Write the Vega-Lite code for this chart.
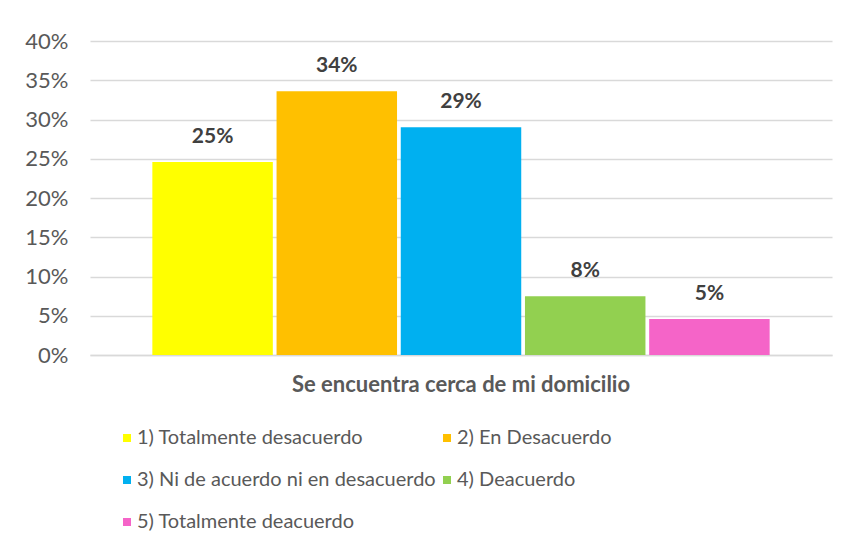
{
  "$schema": "https://vega.github.io/schema/vega-lite/v6.json",
  "width": 742,
  "height": 314,
  "autosize": "none",
  "padding": {"left": 90, "top": 41, "right": 15, "bottom": 195},
  "background": "white",
  "config": {
    "font": "Lato",
    "view": {"stroke": null}
  },
  "data": {
    "values": [
      {"pregunta": "Se encuentra cerca de mi domicilio", "respuesta": "1) Totalmente desacuerdo", "valor": 0.246},
      {"pregunta": "Se encuentra cerca de mi domicilio", "respuesta": "2) En Desacuerdo", "valor": 0.336},
      {"pregunta": "Se encuentra cerca de mi domicilio", "respuesta": "3) Ni de acuerdo ni en desacuerdo", "valor": 0.29},
      {"pregunta": "Se encuentra cerca de mi domicilio", "respuesta": "4) Deacuerdo", "valor": 0.075},
      {"pregunta": "Se encuentra cerca de mi domicilio", "respuesta": "5) Totalmente deacuerdo", "valor": 0.046}
    ]
  },
  "encoding": {
    "x": {
      "field": "pregunta",
      "type": "nominal",
      "scale": {"paddingInner": 0, "paddingOuter": 0.101},
      "axis": {
        "title": null,
        "labelAngle": 0,
        "labelFontWeight": "bold",
        "labelFontSize": 22,
        "labelColor": "#595959",
        "labelPadding": 19,
        "labelLimit": 600,
        "ticks": false,
        "domainColor": "#d9d9d9",
        "domainWidth": 1.5
      }
    },
    "xOffset": {
      "field": "respuesta",
      "type": "nominal",
      "scale": {"paddingInner": 0.03, "paddingOuter": 0}
    },
    "y": {
      "field": "valor",
      "type": "quantitative",
      "scale": {"domain": [0, 0.4]},
      "axis": {
        "title": null,
        "format": ".0%",
        "values": [0, 0.05, 0.1, 0.15, 0.2, 0.25, 0.3, 0.35, 0.4],
        "domain": false,
        "ticks": false,
        "labelFontSize": 22,
        "labelColor": "#595959",
        "labelPadding": 22,
        "gridColor": "#d9d9d9",
        "gridWidth": 1.5
      }
    }
  },
  "layer": [
    {
      "mark": {"type": "bar"},
      "encoding": {
        "color": {
          "field": "respuesta",
          "type": "nominal",
          "scale": {
            "domain": ["1) Totalmente desacuerdo", "2) En Desacuerdo", "3) Ni de acuerdo ni en desacuerdo", "4) Deacuerdo", "5) Totalmente deacuerdo"],
            "range": ["#FFFF00", "#FFC000", "#00B0F0", "#92D050", "#F564C8"]
          },
          "legend": {
            "title": null,
            "orient": "none",
            "legendX": 27,
            "legendY": 387,
            "direction": "horizontal",
            "columns": 2,
            "symbolType": "square",
            "symbolSize": 64,
            "symbolStrokeWidth": 0,
            "labelFontSize": 20,
            "labelColor": "#595959",
            "labelLimit": 400,
            "rowPadding": 22,
            "columnPadding": 1,
            "labelOffset": 0
          }
        }
      }
    },
    {
      "mark": {"type": "text", "baseline": "bottom", "dy": -15, "fontSize": 21, "fontWeight": "bold", "color": "#404040"},
      "encoding": {
        "text": {"field": "valor", "type": "quantitative", "format": ".0%"}
      }
    }
  ]
}
